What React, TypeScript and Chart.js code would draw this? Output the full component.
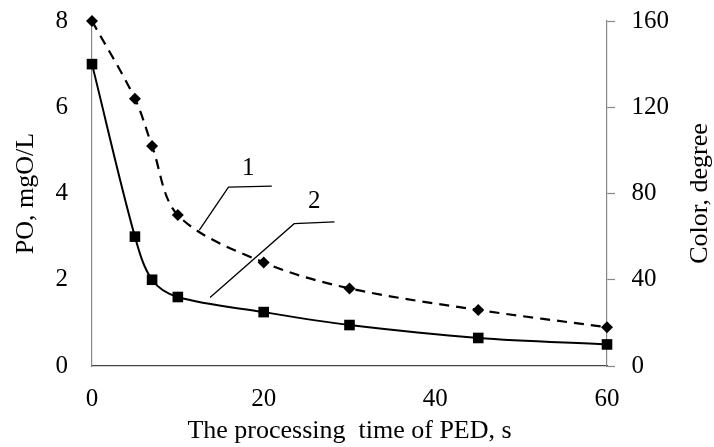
import React, { useEffect, useRef } from "react";
import { Chart, registerables } from "chart.js";

Chart.register(...registerables);

// ---- data ----
const times = [0, 5, 7, 10, 20, 30, 45, 60];
const colorDegree = [160, 124, 102, 70, 48, 36, 26, 18]; // curve 1 (right axis)
const poValues = [7.0, 3.0, 2.0, 1.6, 1.25, 0.95, 0.65, 0.5]; // curve 2 (left axis)

const xTickValues = [0, 20, 40, 60];
const poTickValues = [0, 2, 4, 6, 8];
const colorTickValues = [0, 40, 80, 120, 160];

const xTitle = "The processing  time of PED, s";
const leftTitle = "PO, mgO/L";
const rightTitle = "Color, degree";

// leader lines for the curve numbers, in data coordinates (x: s, y: left axis)
const leader1 = [[12.5, 3.15], [15.9, 4.15], [20.95, 4.17]];
const leader2 = [[13.75, 1.59], [23.55, 3.3], [28.25, 3.34]];
const label1 = { text: "1", x: 18.2, y: 4.58 };
const label2 = { text: "2", x: 25.9, y: 3.81 };

const FONT = "'Liberation Serif', 'Times New Roman', serif";
const TICK_SIZE = 25;
const TITLE_SIZE = 26;

export default function App() {
  const ref = useRef<HTMLCanvasElement | null>(null);

  useEffect(() => {
    if (!ref.current) return;

    const annotationPlugin = {
      id: "annot",
      afterDraw(chart: any) {
        const ctx = chart.ctx;
        const xs = chart.scales.x;
        const ys = chart.scales.y;
        ctx.save();
        ctx.strokeStyle = "#000";
        ctx.lineWidth = 1.3;
        [leader1, leader2].forEach((pts) => {
          ctx.beginPath();
          pts.forEach((p, i) => {
            const px = xs.getPixelForValue(p[0]);
            const py = ys.getPixelForValue(p[1]);
            if (i === 0) ctx.moveTo(px, py);
            else ctx.lineTo(px, py);
          });
          ctx.stroke();
        });
        ctx.fillStyle = "#000";
        ctx.font = `${TICK_SIZE}px ${FONT}`;
        ctx.textAlign = "center";
        ctx.textBaseline = "middle";
        [label1, label2].forEach((l) => {
          ctx.fillText(l.text, xs.getPixelForValue(l.x), ys.getPixelForValue(l.y));
        });
        // right axis title, reading bottom to top
        const area = chart.chartArea;
        ctx.translate(chart.width - 14, (area.top + area.bottom) / 2);
        ctx.rotate(-Math.PI / 2);
        ctx.font = `${TITLE_SIZE}px ${FONT}`;
        ctx.fillText(rightTitle, 0, 0);
        ctx.restore();
      },
    };

    const noPadY = (w: number) => (s: any) => {
      s.width = w;
      s.paddingTop = 0;
      s.paddingBottom = 0;
    };

    const chart = new Chart(ref.current, {
      type: "line",
      data: {
        datasets: [
          {
            label: "1",
            data: times.map((t, i) => ({ x: t, y: colorDegree[i] })),
            yAxisID: "y1",
            borderColor: "#000",
            backgroundColor: "#000",
            borderWidth: 2.2,
            borderDash: [10, 7],
            pointStyle: "rectRot",
            pointRadius: 6,
            pointBorderWidth: 0,
            tension: 0.33,
            clip: false as any,
          },
          {
            label: "2",
            data: times.map((t, i) => ({ x: t, y: poValues[i] })),
            yAxisID: "y",
            borderColor: "#000",
            backgroundColor: "#000",
            borderWidth: 2,
            pointStyle: "rect",
            pointRadius: 7.5,
            pointBorderWidth: 0,
            tension: 0.33,
            clip: false as any,
          },
        ],
      },
      options: {
        animation: false,
        responsive: true,
        maintainAspectRatio: false,
        layout: { padding: { top: 21, left: 0, right: 0, bottom: 0 } },
        plugins: { legend: { display: false }, tooltip: { enabled: false } },
        scales: {
          x: {
            type: "linear",
            min: 0,
            max: 60,
            afterBuildTicks: (s: any) => {
              s.ticks = xTickValues.map((v) => ({ value: v }));
            },
            afterFit: (s: any) => {
              s.height = 81;
              s.paddingLeft = 0;
              s.paddingRight = 0;
            },
            grid: { display: true, drawOnChartArea: false, drawTicks: false },
            border: { display: true, color: "#444", width: 1.2 },
            ticks: {
              color: "#000",
              padding: 18,
              font: { family: FONT, size: TICK_SIZE },
            },
            title: {
              display: true,
              text: xTitle,
              color: "#000",
              padding: { top: 0, bottom: 0 },
              font: { family: FONT, size: TITLE_SIZE },
            },
          },
          y: {
            type: "linear",
            position: "left",
            min: 0,
            max: 8,
            afterBuildTicks: (s: any) => {
              s.ticks = poTickValues.map((v) => ({ value: v }));
            },
            afterFit: noPadY(92),
            grid: { display: true, drawOnChartArea: false, drawTicks: false },
            border: { display: true, color: "#888", width: 1.2 },
            ticks: {
              color: "#000",
              padding: 24,
              font: { family: FONT, size: TICK_SIZE },
            },
            title: {
              display: true,
              text: leftTitle,
              color: "#000",
              padding: { top: 11, bottom: 0 },
              font: { family: FONT, size: TITLE_SIZE },
            },
          },
          y1: {
            type: "linear",
            position: "right",
            min: 0,
            max: 160,
            afterBuildTicks: (s: any) => {
              s.ticks = colorTickValues.map((v) => ({ value: v }));
            },
            afterFit: noPadY(107),
            grid: {
              display: true,
              drawOnChartArea: false,
              drawTicks: true,
              tickLength: 8,
              tickColor: "#888",
              tickWidth: 1.2,
            },
            border: { display: true, color: "#888", width: 1.2 },
            ticks: {
              color: "#000",
              padding: 16.5,
              font: { family: FONT, size: TICK_SIZE },
            },
            title: { display: false },
          },
        },
      },
      plugins: [annotationPlugin],
    });

    return () => chart.destroy();
  }, []);

  return (
    <div style={{ position: "fixed", left: 0, top: 0, width: 714, height: 447, background: "#fff" }}>
      <canvas ref={ref} />
    </div>
  );
}
